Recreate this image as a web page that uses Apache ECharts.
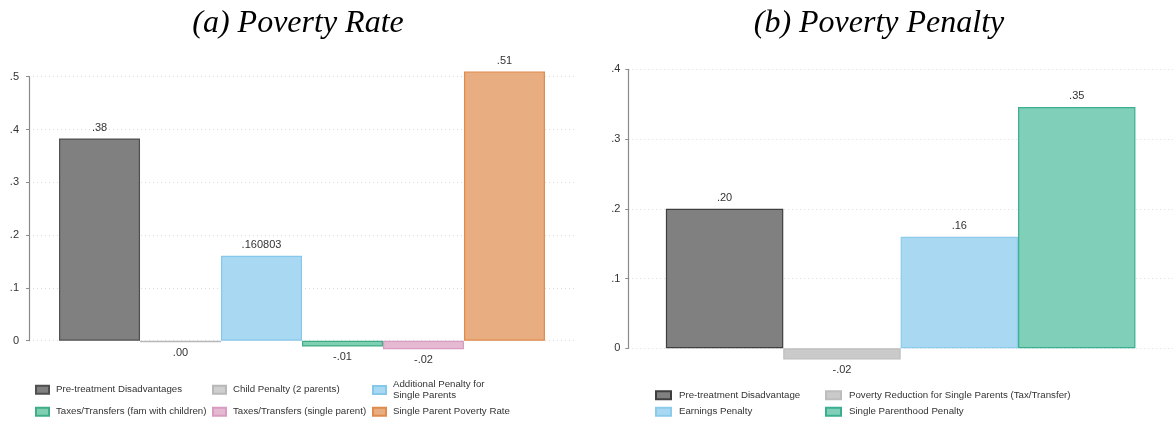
<!DOCTYPE html>
<html>
<head>
<meta charset="utf-8">
<style>
  html, body { margin: 0; padding: 0; background: #fff; }
  #chart { width: 1173px; height: 421px; }
</style>
<script src="https://cdn.jsdelivr.net/npm/echarts@6/dist/echarts.min.js"></script>
</head>
<body>
<div id="chart"></div>
<script>
// Panel (a): poverty rate decomposition
const rateNames = [
  'Pre-treatment Disadvantages',
  'Child Penalty (2 parents)',
  'Additional Penalty for Single Parents',
  'Taxes/Transfers (fam with children)',
  'Taxes/Transfers (single parent)',
  'Single Parent Poverty Rate'
];
const rateValues = [0.383, -0.003, 0.160803, -0.011, -0.016, 0.51];
const rateDecimals = [2, 2, 6, 2, 2, 2];
const rateTicks = [0, 0.1, 0.2, 0.3, 0.4, 0.5];

// Panel (b): poverty penalty decomposition
const penaltyNames = [
  'Pre-treatment Disadvantage',
  'Poverty Reduction for Single Parents (Tax/Transfer)',
  'Earnings Penalty',
  'Single Parenthood Penalty'
];
const penaltyValues = [0.20, -0.016, 0.16, 0.346];
const penaltyDecimals = [2, 2, 2, 2];
const penaltyTicks = [0, 0.1, 0.2, 0.3, 0.4];

const rateColors = [
  { fill: '#808080', line: '#4f4f4f' },
  { fill: '#cfcfcf', line: '#b8b8b8' },
  { fill: '#a9d8f2', line: '#86c8ec' },
  { fill: '#7fcfb3', line: '#3fae86' },
  { fill: '#e6b9d3', line: '#d79cc0' },
  { fill: '#e8ad80', line: '#e08a4c' }
];
const penaltyColors = [
  { fill: '#808080', line: '#3f3f3f' },
  { fill: '#cacaca', line: '#bdbdbd' },
  { fill: '#a9d8f2', line: '#8ccbea' },
  { fill: '#80cfb8', line: '#3aae90' }
];

function fmtStata(v, d) {
  let s = Math.abs(v).toFixed(d);
  if (s.startsWith('0.')) s = s.slice(1);
  if (v < 0 && Number(s) !== 0) s = '-' + s;
  return s;
}
function tickFmt(v) {
  if (Math.abs(v) < 1e-9) return '0';
  return v.toFixed(1).replace(/^0/, '');
}

const FONT = 'Liberation Sans, Arial, sans-serif';

function makeSeries(names, values, decimals, colors, gi) {
  return names.map((n, i) => ({
    name: n,
    type: 'bar',
    xAxisIndex: gi,
    yAxisIndex: gi,
    barGap: '0%',
    barCategoryGap: gi === 0 ? '11%' : '13.8%',
    clip: false,
    data: [values[i]],
    itemStyle: { color: colors[i].fill, borderColor: colors[i].line, borderWidth: 1.2 },
    label: {
      show: true,
      position: values[i] < 0 ? 'bottom' : 'top',
      distance: 5,
      color: '#333',
      fontFamily: FONT,
      fontSize: 11,
      formatter: () => fmtStata(values[i], decimals[i])
    },
    emphasis: { disabled: true }
  }));
}

function makeAxisY(ticks, gi, margin) {
  return {
    type: 'value',
    gridIndex: gi,
    min: ticks[0],
    max: ticks[ticks.length - 1],
    interval: 0.1,
    axisLine: { show: true, lineStyle: { color: '#8a8a8a', width: 1.2 } },
    axisTick: { show: true, length: 3, lineStyle: { color: '#8a8a8a' } },
    axisLabel: { color: '#333', fontFamily: FONT, fontSize: 11, margin: margin, formatter: tickFmt },
    splitLine: { show: true, lineStyle: { color: '#dcdcdc', type: [1, 3], width: 1 } }
  };
}

function makeLegend(name, left, top, iconW, textPad) {
  return {
    data: [name],
    left: left,
    top: top,
    padding: 0,
    icon: 'rect',
    itemWidth: iconW,
    itemHeight: 8,
    itemGap: 0,
    textStyle: { color: '#333', fontFamily: FONT, fontSize: 9.7, lineHeight: 11.5, padding: [0, 0, 0, textPad] },
    formatter: (n) => n === 'Additional Penalty for Single Parents' ? 'Additional Penalty for\nSingle Parents' : n
  };
}

const legends = [
  makeLegend(rateNames[0], 35, 384, 13, 2),
  makeLegend(rateNames[1], 212, 384, 13, 2),
  makeLegend(rateNames[2], 372, 378.5, 13, 2),
  makeLegend(rateNames[3], 35, 406, 13, 2),
  makeLegend(rateNames[4], 212, 406, 13, 2),
  makeLegend(rateNames[5], 372, 406, 13, 2),
  makeLegend(penaltyNames[0], 655, 389.5, 15, 3),
  makeLegend(penaltyNames[1], 825, 389.5, 15, 3),
  makeLegend(penaltyNames[2], 655, 406, 15, 3),
  makeLegend(penaltyNames[3], 825, 406, 15, 3)
];

const chart = echarts.init(document.getElementById('chart'), null, { renderer: 'canvas' });
chart.setOption({
  backgroundColor: '#ffffff',
  animation: false,
  title: [
    { text: '(a) Poverty Rate', left: 293, top: 3, textAlign: 'center',
      textStyle: { fontFamily: 'Liberation Serif, Times New Roman, serif', fontStyle: 'italic', fontWeight: 'normal', fontSize: 32, color: '#000' } },
    { text: '(b) Poverty Penalty', left: 874, top: 3, textAlign: 'center',
      textStyle: { fontFamily: 'Liberation Serif, Times New Roman, serif', fontStyle: 'italic', fontWeight: 'normal', fontSize: 32, color: '#000' } }
  ],
  legend: legends,
  grid: [
    { left: 29, top: 76.7, width: 546, height: 264, containLabel: false },
    { left: 628.3, top: 69.3, width: 546, height: 279, containLabel: false }
  ],
  xAxis: [
    { type: 'category', gridIndex: 0, data: ['rate'], show: false },
    { type: 'category', gridIndex: 1, data: ['penalty'], show: false }
  ],
  yAxis: [makeAxisY(rateTicks, 0, 10), makeAxisY(penaltyTicks, 1, 8)],
  series: [].concat(
    makeSeries(rateNames, rateValues, rateDecimals, rateColors, 0),
    makeSeries(penaltyNames, penaltyValues, penaltyDecimals, penaltyColors, 1)
  )
});
</script>
</body>
</html>
